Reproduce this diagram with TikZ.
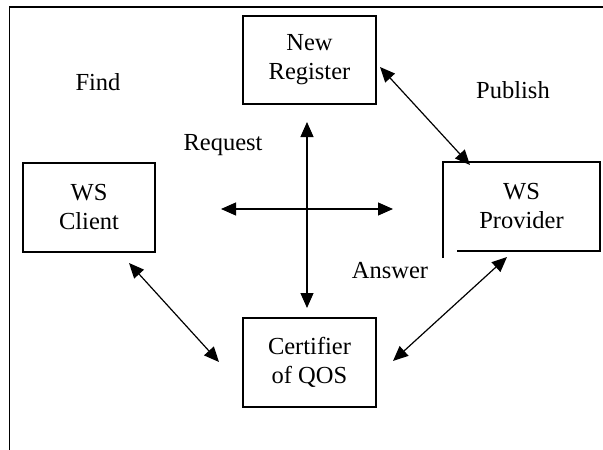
\documentclass[tikz,border=0pt]{standalone}
\usepackage{fontspec}
\setmainfont{Liberation Serif}
\usetikzlibrary{arrows.meta}
\begin{document}
\begin{tikzpicture}[x=1pt,y=-1pt,
  lbl/.style={font=\fontsize{24.5}{29}\selectfont, anchor=base, inner sep=0pt},
  box/.style={font=\fontsize{24.5}{29}\selectfont, align=center, inner sep=0pt},
  outline/.style={draw, line width=1.1pt},
  link/.style={line width=1.2pt, {Triangle[length=15pt,width=13pt]}-{Triangle[length=15pt,width=13pt]}}]
\useasboundingbox (0,0) rectangle (603,450);

% frame
\draw[line width=1.8pt] (603,7) -- (9.5,7) -- (9.5,450);

% boxes
\node[box, outline, minimum width=132pt, minimum height=89pt] (client) at (89,207.5) {WS\\Client};
\node[box, outline, minimum width=133pt, minimum height=88pt] (reg) at (309.5,60) {New\\Register};
\node[box, outline, minimum width=133pt, minimum height=89pt] (cert) at (309.5,362.5) {Certifier\\of QOS};
\node[box, outer sep=0pt, minimum width=157pt, minimum height=89pt] (prov) at (521.5,206.5) {WS\\Provider};
% provider outline, left edge and bottom edge left open at the corner
\draw[line width=1.1pt] ([yshift=-7pt]prov.south west) -- (prov.north west) -- (prov.north east)
  -- (prov.south east) -- ([xshift=14pt]prov.south west);

% labels
\node[lbl] (find) at (98,90) {Find};
\node[lbl] (req) at (223,150) {Request};
\node[lbl] (pub) at (513,98) {Publish};
\node[lbl] (ans) at (390,278) {Answer};

% arrow ends
\coordinate (vtop) at (307,122);
\coordinate (vbot) at (307,308);
\coordinate (hl) at (221,209);
\coordinate (hr) at (393,209);
\coordinate (rp1) at (380,67);
\coordinate (rp2) at (470,165);
\coordinate (cc1) at (129,263);
\coordinate (cc2) at (219,362);
\coordinate (cp1) at (393,361);
\coordinate (cp2) at (507,257);

% connectors
\draw[link] (vtop) -- (vbot);
\draw[link] (hl) -- (hr);
\draw[link] (rp1) -- (rp2);
\draw[link] (cc1) -- (cc2);
\draw[link] (cp1) -- (cp2);
\end{tikzpicture}
\end{document}
